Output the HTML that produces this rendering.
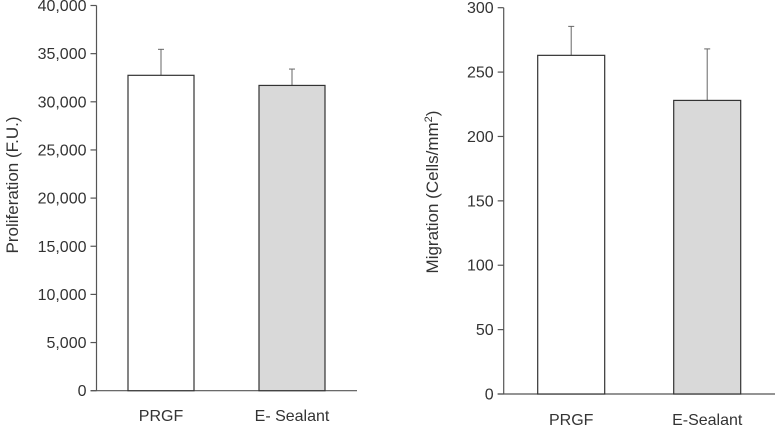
<!DOCTYPE html>
<html><head><meta charset="utf-8"><style>
html,body{margin:0;padding:0;background:#fff}
svg{display:block}
text{font-family:"Liberation Sans",sans-serif;fill:#333}
</style></head><body>
<svg id="c" width="775" height="427"></svg>
<script>
const categories=["PRGF","E- Sealant"];
const categoriesR=["PRGF","E-Sealant"];
const prolif=[32750,31700];
const prolifErr=[2700,1700];
const migr=[263,228];
const migrErr=[22.5,40];
const prolifTicks=[0,5000,10000,15000,20000,25000,30000,35000,40000];
const migrTicks=[0,50,100,150,200,250,300];
const NS="http://www.w3.org/2000/svg";
const svg=document.getElementById('c');
function mk(t,a,p){const e=document.createElementNS(NS,t);for(const k in a)e.setAttribute(k,a[k]);(p||svg).appendChild(e);return e;}
function panel(o){
  const g=mk('g',{});
  
  
  const y=v=>o.y0-(v/o.max)*(o.y0-o.y1);
  const ax=mk('line',{x1:o.ax,y1:o.y1,x2:o.ax,y2:o.y0,stroke:'#555','stroke-width':1.2},g);
  
  const bl=mk('line',{x1:o.ax-6,y1:o.y0,x2:o.xEnd,y2:o.y0,stroke:'#555','stroke-width':1.2},g);
  
  o.ticks.forEach(t=>{
    const l=mk('line',{x1:o.ax-6,y1:y(t),x2:o.ax,y2:y(t),stroke:'#555','stroke-width':1.2},g);
    
    const tx=mk('text',{x:o.ax-10,y:y(t)+5.5,'text-anchor':'end','font-size':16},g);
    tx.textContent=t.toLocaleString('en-US');
    
  });
  o.vals.forEach((v,i)=>{
    const x=o.bx[i];
    const ey=y(v+o.err[i]);
    const el=mk('line',{x1:x+o.bw/2,y1:ey,x2:x+o.bw/2,y2:y(v),stroke:'#666','stroke-width':1},g);
    
    const cap=mk('line',{x1:x+o.bw/2-3,y1:ey,x2:x+o.bw/2+3,y2:ey,stroke:'#666','stroke-width':1},g);
    
    const r=mk('rect',{x:x,y:y(v),width:o.bw,height:o.y0-y(v),fill:o.fills[i],stroke:'#333','stroke-width':1.2},g);
    
    
    const lt=mk('text',{x:x+o.bw/2,y:o.labY,'text-anchor':'middle','font-size':16},g);
    lt.textContent=o.cats[i];
    
  });
  const tt=mk('text',{x:0,y:0,'text-anchor':'middle','font-size':17,transform:`translate(${o.tx},${o.ty}) rotate(-90)`},g);
  tt.textContent=o.title;
  
  return tt;
}
panel({name:'proliferation-chart',ax:96.5,y0:390.7,y1:5.5,max:40000,xEnd:357,ticks:prolifTicks,vals:prolif,err:prolifErr,cats:categories,bx:[128,259],bw:66,fills:['#fff','#d9d9d9'],labY:421,tx:18,ty:185,title:'Proliferation (F.U.)'});
const t2=panel({name:'migration-chart',ax:503.7,y0:394,y1:7.7,max:300,xEnd:775,ticks:migrTicks,vals:migr,err:migrErr,cats:categoriesR,bx:[537.7,673.7],bw:67,fills:['#fff','#d9d9d9'],labY:425,tx:438,ty:192,title:''});
t2.innerHTML='Migration (Cells/mm<tspan dy="-6" font-size="11">2</tspan><tspan dy="6">)</tspan>';
</script>
</body></html>
